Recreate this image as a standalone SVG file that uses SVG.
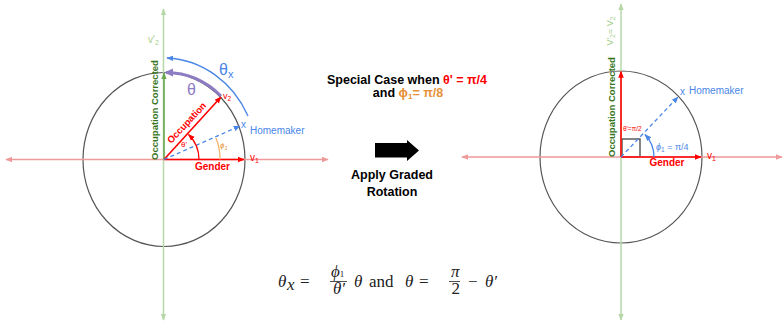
<svg xmlns="http://www.w3.org/2000/svg" width="783" height="322" viewBox="0 0 783 322">
<style>
text{font-family:"Liberation Sans",Arial,sans-serif}
.b{font-weight:bold}
.red{fill:#ff0000}
.blue{fill:#4a86e8}
.gd{fill:#38761d}
.gl{fill:#a8d08d}
.or{fill:#e69138}
.pu{fill:#8e7cc3}
.m{font-family:"Liberation Serif","Times New Roman",serif;font-size:17px;fill:#222}
.mi{font-style:italic}
.axp{stroke:#ee9a9a;stroke-width:1.4;fill:none}
.axg{stroke:#b6d7a8;stroke-width:1.5;fill:none}
.circ{stroke:#555;stroke-width:1.2;fill:none}
</style>
<defs>
<marker id="mPink" viewBox="0 0 10 10" refX="9" refY="5" markerWidth="7" markerHeight="7" markerUnits="userSpaceOnUse" orient="auto-start-reverse"><path d="M0,1 L10,5 L0,9 z" fill="#ee9a9a"/></marker>
<marker id="mGl" viewBox="0 0 10 10" refX="9" refY="5" markerWidth="7" markerHeight="7" markerUnits="userSpaceOnUse" orient="auto-start-reverse"><path d="M0,1 L10,5 L0,9 z" fill="#b6d7a8"/></marker>
<marker id="mRed" viewBox="0 0 10 10" refX="9" refY="5" markerWidth="7" markerHeight="7" markerUnits="userSpaceOnUse" orient="auto"><path d="M0,1 L10,5 L0,9 z" fill="#ff0000"/></marker>
<marker id="mGreen" viewBox="0 0 10 10" refX="9" refY="5" markerWidth="7" markerHeight="7" markerUnits="userSpaceOnUse" orient="auto"><path d="M0,1 L10,5 L0,9 z" fill="#6aa84f"/></marker>
<marker id="mBlue" viewBox="0 0 10 10" refX="9" refY="5" markerWidth="7" markerHeight="7" markerUnits="userSpaceOnUse" orient="auto"><path d="M0,1 L10,5 L0,9 z" fill="#4a86e8"/></marker>
<marker id="mPurple" viewBox="0 0 10 10" refX="8" refY="5" markerWidth="9" markerHeight="9" markerUnits="userSpaceOnUse" orient="auto"><path d="M0,0.5 L10,5 L0,9.5 z" fill="#8e7cc3"/></marker>
</defs>

<g id="left-circle"><ellipse class="circ" cx="164" cy="159.5" rx="81" ry="87"/></g>
<g id="right-circle"><ellipse class="circ" cx="621" cy="157" rx="81" ry="86"/></g>
<g id="right-square"><rect x="622" y="139" width="18" height="18" fill="none" stroke="#444" stroke-width="1.3"/></g>

<g id="connectors">
  <line class="axp" x1="6" y1="159.5" x2="328" y2="159.5" marker-start="url(#mPink)" marker-end="url(#mPink)"/>
  <line class="axg" x1="163.5" y1="9" x2="163.5" y2="320" marker-start="url(#mGl)" marker-end="url(#mGl)"/>
  <line class="axp" x1="462" y1="157" x2="782" y2="157" marker-start="url(#mPink)" marker-end="url(#mPink)"/>
  <line class="axg" x1="621" y1="4" x2="621" y2="320" marker-start="url(#mGl)" marker-end="url(#mGl)"/>

  <line x1="164" y1="159.5" x2="164" y2="73" stroke="#6aa84f" stroke-width="1.6" marker-end="url(#mGreen)"/>
  <line x1="164" y1="159.5" x2="244" y2="159.5" stroke="#ff0000" stroke-width="1.6" marker-end="url(#mRed)"/>
  <line x1="164" y1="159.5" x2="221" y2="97" stroke="#ff0000" stroke-width="1.6" marker-end="url(#mRed)"/>
  <line x1="164" y1="159.5" x2="240" y2="126" stroke="#4a86e8" stroke-width="1.3" stroke-dasharray="4,3" marker-end="url(#mBlue)"/>
  <path d="M199,159.5 A35,35 0 0 0 188.5,134.5" fill="none" stroke="#ff0000" stroke-width="1.3" marker-end="url(#mRed)"/>
  <path d="M220,159.5 A56,56 0 0 0 216,138" fill="none" stroke="#f6b26b" stroke-width="1.3"/>
  <path d="M221,96 A81,87 0 0 0 166,72.5" fill="none" stroke="#8e7cc3" stroke-width="3" marker-end="url(#mPurple)"/>
  <path d="M248,116 A94,101 0 0 0 167,58" fill="none" stroke="#4a86e8" stroke-width="1.3" marker-end="url(#mBlue)"/>

  <line x1="621" y1="157" x2="621" y2="71.5" stroke="#ff0000" stroke-width="1.6" marker-end="url(#mRed)"/>
  <line x1="621" y1="157" x2="701" y2="157" stroke="#ff0000" stroke-width="1.6" marker-end="url(#mRed)"/>
  <line x1="621" y1="157" x2="678" y2="97" stroke="#4a86e8" stroke-width="1.3" stroke-dasharray="4,3" marker-end="url(#mBlue)"/>
  <path d="M654,157 A33,33 0 0 0 645,134.5" fill="none" stroke="#4a86e8" stroke-width="1.3" marker-end="url(#mBlue)"/>

  <polygon points="375,143 407,143 407,140 419,150.5 407,161 407,157.5 375,157.5" fill="#000"/>
</g>

<g id="left-labels">
  <text class="gl" x="148" y="43" font-size="10">v'<tspan font-size="7" dy="2">2</tspan></text>
  <text class="b gd" font-size="9.5" text-anchor="middle" transform="translate(158,110) rotate(-90)">Occupation Corrected</text>
  <text class="b red" font-size="9.5" text-anchor="middle" transform="translate(189,125) rotate(-47)">Occupation</text>
  <text class="red" x="223" y="99" font-size="9">v<tspan font-size="6.5" dy="2">2</tspan></text>
  <text class="b red" x="212.5" y="169.5" font-size="10" text-anchor="middle">Gender</text>
  <text class="red" x="250" y="161" font-size="10">v<tspan font-size="7" dy="2">1</tspan></text>
  <text class="red" x="181" y="147" font-size="8">θ'</text>
  <text class="or" x="220" y="148" font-size="8" font-style="italic">ϕ<tspan font-size="5.5" dy="1.5">1</tspan></text>
  <text class="blue" x="241" y="128" font-size="10">x</text>
  <text class="blue" x="250" y="134" font-size="10">Homemaker</text>
  <text class="pu" x="187" y="95" font-size="16">θ</text>
  <text class="blue" x="219" y="75" font-size="16">θ<tspan font-size="11" dy="3">x</tspan></text>
</g>

<g id="middle-labels">
  <text class="b" x="407" y="84" font-size="12.5" text-anchor="middle">Special Case when <tspan fill="#ff0000">θ' = π/4</tspan></text>
  <text class="b" x="408" y="97" font-size="12.5" text-anchor="middle">and <tspan fill="#e69138">ϕ<tspan font-size="8" dy="2">1</tspan><tspan dy="-2">= π/8</tspan></tspan></text>
  <text class="b" x="392" y="179" font-size="12.5" text-anchor="middle">Apply Graded</text>
  <text class="b" x="392" y="196" font-size="12.5" text-anchor="middle">Rotation</text>
</g>

<g id="right-labels">
  <text class="gl" font-size="9" text-anchor="middle" transform="translate(613,31) rotate(-90)">V'<tspan font-size="6.5" dy="2">2</tspan><tspan dy="-2">= V</tspan><tspan font-size="6.5" dy="2">2</tspan></text>
  <text class="b gd" font-size="9.5" text-anchor="middle" transform="translate(615,107) rotate(-90)">Occupation Corrected</text>
  <text class="red" x="623" y="131" font-size="6.5">θ'=π/2</text>
  <text class="b red" x="667" y="166" font-size="10" text-anchor="middle">Gender</text>
  <text class="red" x="707" y="159" font-size="10">v<tspan font-size="7" dy="2">1</tspan></text>
  <text class="blue" x="680" y="95" font-size="10">x</text>
  <text class="blue" x="689" y="94" font-size="10">Homemaker</text>
  <text class="blue" x="656" y="150" font-size="9"><tspan font-style="italic">ϕ</tspan><tspan font-size="6.5" dy="2">1</tspan><tspan dy="-2"> = π/4</tspan></text>
</g>

<g id="formula">
  <text class="m mi" x="278" y="287">θ</text>
  <text class="m mi" x="287" y="290" font-size="10">x</text>
  <text class="m" x="300" y="287">=</text>
  <text class="m mi" x="331" y="277" font-size="12">ϕ<tspan font-style="normal" font-size="9">1</tspan></text>
  <line x1="330" y1="281.5" x2="347" y2="281.5" stroke="#222" stroke-width="0.8"/>
  <text class="m mi" x="333" y="294" font-size="12">θ′</text>
  <text class="m mi" x="354" y="287">θ</text>
  <text class="m" x="369" y="287">and</text>
  <text class="m mi" x="405" y="287">θ</text>
  <text class="m" x="419" y="287">=</text>
  <text class="m mi" x="451" y="277" font-size="12">π</text>
  <line x1="449" y1="281.5" x2="460" y2="281.5" stroke="#222" stroke-width="0.8"/>
  <text class="m" x="451.5" y="294" font-size="12">2</text>
  <text class="m" x="468" y="287">−</text>
  <text class="m mi" x="485" y="287">θ′</text>
</g>
</svg>
